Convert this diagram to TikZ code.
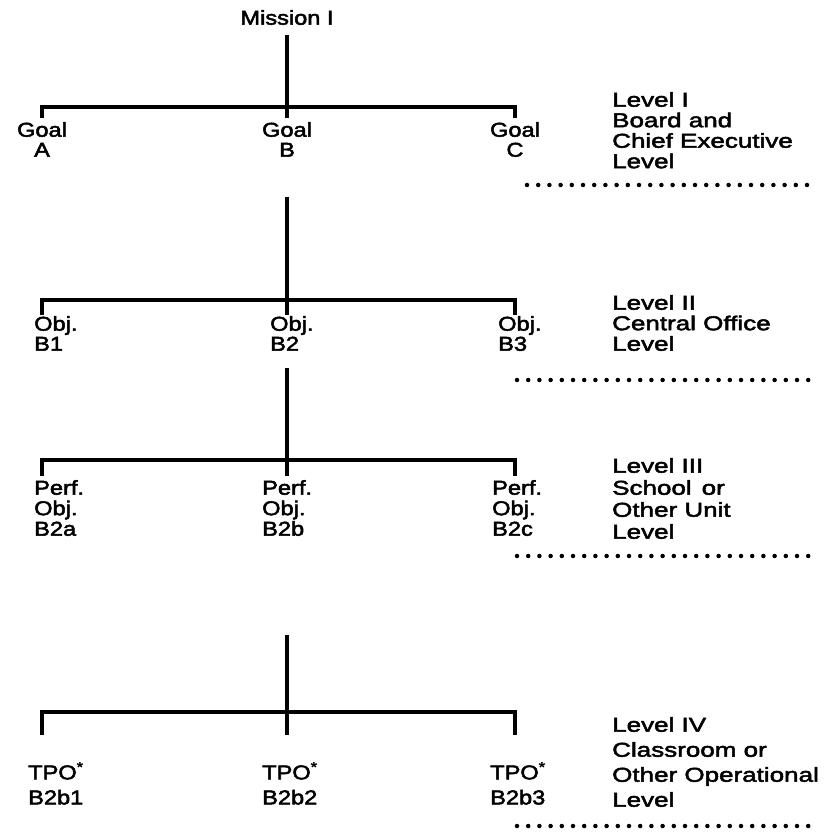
\documentclass[tikz,border=0pt]{standalone}
\usepackage{fontspec}
\setmainfont{Liberation Sans}[FakeStretch=1.18,FakeBold=2.5]
\newfontfamily\lvlfont{Liberation Sans}[FakeStretch=1.3,FakeBold=2.5]
\begin{document}
\begin{tikzpicture}[x=1pt, y=-1pt,
  every node/.style={font=\fontsize{20}{20}\selectfont, inner sep=0pt},
  lbl/.style={align=left, anchor=north west},
  ctr/.style={align=center, anchor=north},
  lvl/.style={align=left, anchor=north west, font=\lvlfont\fontsize{20}{#1}\selectfont},
  bar/.style={line width=3.2pt},
  dotline/.style={line width=4.5pt, line cap=round, dash pattern=on 0pt off 11.2pt}]
\useasboundingbox (0,0) rectangle (824,834);
\node [ctr] (mission) at (287,10) {Mission I};
\node [ctr] (goalA) at (42,122) {Goal\\A};
\node [ctr] (goalB) at (287,122) {Goal\\B};
\node [ctr] (goalC) at (515,122) {Goal\\C};
\node [lvl=20.5] (lvlI) at (612,92) {Level I\\Board and\\Chief Executive\\Level};
\node [lbl] (objB1) at (34,316) {Obj.\\B1};
\node [lbl] (objB2) at (270,316) {Obj.\\B2};
\node [lbl] (objB3) at (498,316) {Obj.\\B3};
\node [lvl=20.5] (lvlII) at (612,295) {Level II\\Central Office\\Level};
\node [lbl, font=\fontsize{20}{20.5}\selectfont] (perfA) at (34,480) {Perf.\\Obj.\\B2a};
\node [lbl, font=\fontsize{20}{20.5}\selectfont] (perfB) at (262,480) {Perf.\\Obj.\\B2b};
\node [lbl, font=\fontsize{20}{20.5}\selectfont] (perfC) at (492,480) {Perf.\\Obj.\\B2c};
\node [lvl=22] (lvlIII) at (612,458) {Level III\\School\enspace or\\Other Unit\\Level};
\node [lbl, font=\fontsize{20}{25}\selectfont] (tpo1) at (28,762) {TPO\textsuperscript{*}\\B2b1};
\node [lbl, font=\fontsize{20}{25}\selectfont] (tpo2) at (262,762) {TPO\textsuperscript{*}\\B2b2};
\node [lbl, font=\fontsize{20}{25}\selectfont] (tpo3) at (490,762) {TPO\textsuperscript{*}\\B2b3};
\node [lvl=25] (lvlIV) at (612,717) {Level IV\\Classroom or\\Other Operational\\Level};
\coordinate (j1) at (287,107);
\draw [bar] ([yshift=-10pt]mission.south) -- ([yshift=4pt]goalB.north);
\draw [bar] ([yshift=4pt]goalA.north) |- (j1) -| ([yshift=4pt]goalC.north);
\coordinate (j2) at (287,300);
\coordinate (t2a) at (42,315);
\coordinate (t2b) at (287,315);
\coordinate (t2c) at (515,315);
\draw [bar] ([yshift=-40pt]goalB.south) -- (t2b);
\draw [bar] (t2a) |- (j2) -| (t2c);
\coordinate (j3) at (287,460);
\coordinate (t3a) at (42,476);
\coordinate (t3b) at (287,476);
\coordinate (t3c) at (515,476);
\draw [bar] ([yshift=-17pt]objB2.south -| t3b) -- (t3b);
\draw [bar] (t3a) |- (j3) -| (t3c);
\coordinate (j4) at (287,712);
\coordinate (t4a) at (42,735);
\coordinate (t4b) at (287,735);
\coordinate (t4c) at (515,735);
\draw [bar] ([yshift=-99pt]perfB.south -| t4b) -- (t4b);
\draw [bar] (t4a) |- (j4) -| (t4c);
\draw [dotline] (527,185) -- (815,185);
\draw [dotline] (517,380) -- (815,380);
\draw [dotline] (517,556) -- (815,556);
\draw [dotline] (517,826) -- (815,826);
\end{tikzpicture}
\end{document}
